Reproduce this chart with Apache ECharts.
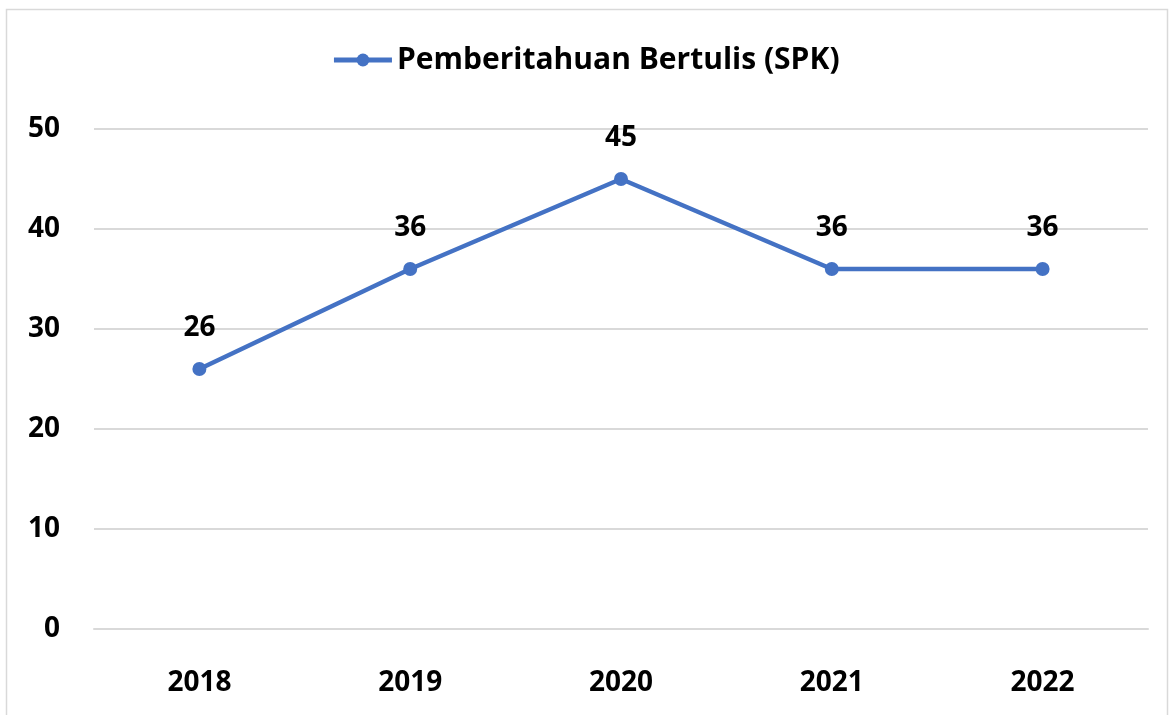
<!DOCTYPE html>
<html>
<head>
<meta charset="utf-8">
<script src="https://cdn.jsdelivr.net/npm/echarts@6/dist/echarts.min.js"></script>
<style>
  html, body { margin: 0; padding: 0; background: #fff; }
  #chart { width: 1171px; height: 715px; }
</style>
</head>
<body>
<div id="chart"></div>
<script>
// data
const years = ["2018", "2019", "2020", "2021", "2022"];
const spk = [26, 36, 45, 36, 36];
const seriesName = "Pemberitahuan Bertulis (SPK)";

const font = "'Open Sans', 'Noto Sans', sans-serif";
const blue = "#4472C4";

const chart = echarts.init(document.getElementById("chart"));
chart.setOption({
  animation: false,
  backgroundColor: "#fff",
  graphic: [
    {
      type: "rect",
      shape: { x: 6.5, y: 9.5, width: 1161, height: 720 },
      style: { fill: "none", stroke: "#d9d9d9", lineWidth: 1.5 },
      silent: true,
    },
  ],
  legend: {
    top: 40,
    left: "center",
    itemWidth: 58,
    itemHeight: 16,
    itemGap: 8,
    lineStyle: { width: 5 },
    textStyle: {
      fontFamily: font,
      fontWeight: "bold",
      fontSize: 30,
      color: "#000",
    },
    data: [seriesName],
  },
  grid: {
    left: 94,
    right: 23,
    top: 129,
    bottom: 86,
  },
  xAxis: {
    type: "category",
    data: years,
    boundaryGap: true,
    axisLine: { show: true, lineStyle: { color: "#d9d9d9", width: 2 } },
    axisTick: { show: false },
    axisLabel: {
      margin: 40,
      fontFamily: font,
      fontWeight: "bold",
      fontSize: 28,
      color: "#000",
    },
  },
  yAxis: {
    type: "value",
    min: 0,
    max: 50,
    interval: 10,
    axisLine: { show: false },
    axisTick: { show: false },
    splitLine: { lineStyle: { color: "#d9d9d9", width: 2 } },
    axisLabel: {
      margin: 34,
      fontFamily: font,
      fontWeight: "bold",
      fontSize: 28,
      color: "#000",
    },
  },
  series: [
    {
      name: seriesName,
      type: "line",
      data: spk,
      symbol: "circle",
      symbolSize: 14,
      lineStyle: { color: blue, width: 4.5 },
      itemStyle: { color: blue },
      label: {
        show: true,
        position: "top",
        distance: 20,
        fontFamily: font,
        fontWeight: "bold",
        fontSize: 28,
        color: "#000",
      },
    },
  ],
});
</script>
</body>
</html>
